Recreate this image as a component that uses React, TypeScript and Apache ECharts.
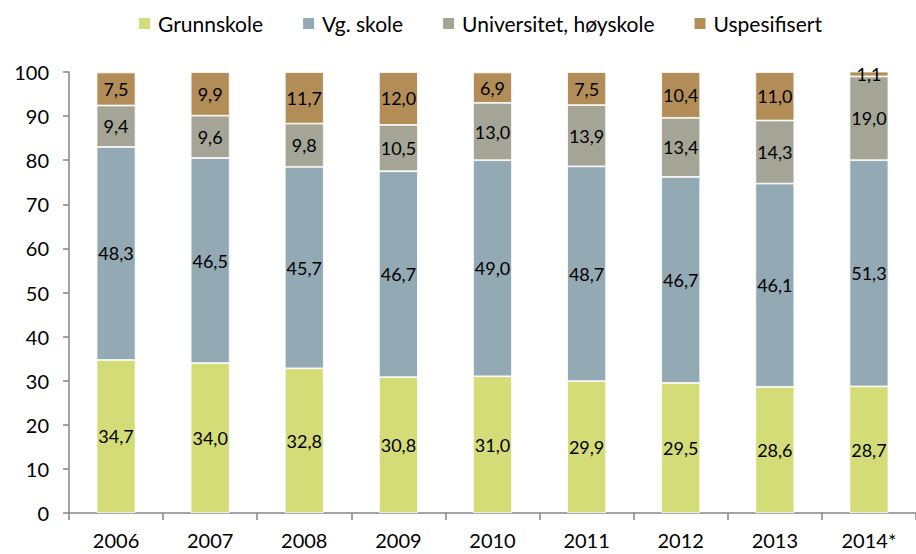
import React, { useEffect, useRef } from "react";
import * as echarts from "echarts";

const categories = ["2006", "2007", "2008", "2009", "2010", "2011", "2012", "2013", "2014*"];
const grunnskole = [34.7, 34.0, 32.8, 30.8, 31.0, 29.9, 29.5, 28.6, 28.7];
const vgSkole = [48.3, 46.5, 45.7, 46.7, 49.0, 48.7, 46.7, 46.1, 51.3];
const universitet = [9.4, 9.6, 9.8, 10.5, 13.0, 13.9, 13.4, 14.3, 19.0];
const uspesifisert = [7.5, 9.9, 11.7, 12.0, 6.9, 7.5, 10.4, 11.0, 1.1];

const FONT = "Lato, 'Open Sans', sans-serif";

export default function App() {
  const ref = useRef<HTMLDivElement>(null);
  useEffect(() => {
    if (!ref.current) return;
    const chart = echarts.init(ref.current, null, { renderer: "svg" });
    const mk = (name: string, data: number[], color: string) => ({
      name,
      type: "bar",
      stack: "total",
      data,
      barWidth: 39,
      itemStyle: { color, borderColor: "#ffffff", borderWidth: 0.8 },
      label: {
        show: true,
        position: "inside",
        color: "#000000",
        fontFamily: FONT,
        fontSize: 18,
        formatter: (p: any) => p.value.toFixed(1).replace(".", ","),
      },
    });
    chart.setOption({
      animation: false,
      backgroundColor: "#ffffff",
      textStyle: { fontFamily: FONT },
      legend: {
        top: 13,
        left: 137,
        padding: 0,
        itemWidth: 13,
        itemHeight: 13,
        itemGap: 38,
        icon: "rect",
        textStyle: { fontFamily: FONT, fontSize: 21, color: "#000000", padding: [0, 0, 0, 2] },
        data: ["Grunnskole", "Vg. skole", "Universitet, høyskole", "Uspesifisert"],
      },
      grid: { left: 69, top: 72, width: 858, bottom: 41, containLabel: false },
      xAxis: {
        type: "category",
        data: categories,
        axisLine: { lineStyle: { color: "#868686", width: 1.5 } },
        axisTick: { show: true, length: 7, lineStyle: { color: "#868686", width: 1.5 } },
        axisLabel: { color: "#000000", fontSize: 20, fontFamily: FONT, margin: 17 },
      },
      yAxis: {
        type: "value",
        min: 0,
        max: 100,
        interval: 10,
        splitLine: { show: false },
        axisLine: { show: true, lineStyle: { color: "#868686", width: 1.5 } },
        axisTick: { show: true, length: 6, lineStyle: { color: "#868686", width: 1.5 } },
        axisLabel: { color: "#000000", fontSize: 20, fontFamily: FONT, margin: 20 },
      },
      series: [
        mk("Grunnskole", grunnskole, "#D3DC76"),
        mk("Vg. skole", vgSkole, "#93A9B4"),
        mk("Universitet, høyskole", universitet, "#A4A596"),
        mk("Uspesifisert", uspesifisert, "#B38D57"),
      ],
    });
    return () => chart.dispose();
  }, []);
  return <div ref={ref} style={{ width: 916, height: 554, position: "absolute", left: 0, top: 0 }} />;
}
